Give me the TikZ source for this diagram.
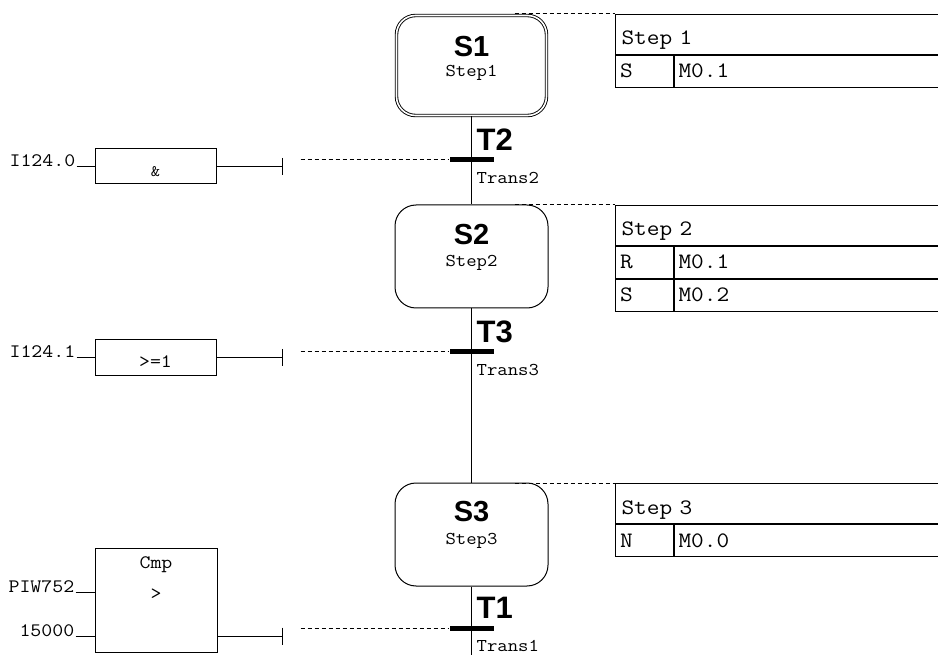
\documentclass[tikz,border=0pt]{standalone}
\usepackage{fontspec}
\setsansfont{Liberation Sans}
\setmonofont{Latin Modern Mono}[FakeStretch=1.12]
\usetikzlibrary{positioning,calc}
\tikzstyle{stepbox} = [rectangle, rounded corners=21pt, draw=black, line width=1pt, minimum width=153pt, minimum height=103pt, inner sep=0pt]
\tikzstyle{initstep} = [stepbox, double, double distance=1.6pt, line width=0.9pt, minimum width=150pt, minimum height=100pt, rounded corners=19pt]
\tikzstyle{steptitle} = [anchor=base, inner sep=0pt, font=\sffamily\bfseries\fontsize{29}{29}\selectfont]
\tikzstyle{stepname} = [anchor=base, inner sep=0pt, font=\ttfamily\fontsize{18}{18}\selectfont]
\tikzstyle{transbar} = [rectangle, fill=black, minimum width=44pt, minimum height=5pt, inner sep=0pt]
\tikzstyle{transtitle} = [anchor=base west, inner sep=0pt, font=\sffamily\bfseries\fontsize{31}{31}\selectfont]
\tikzstyle{transname} = [anchor=base west, inner sep=0pt, font=\ttfamily\fontsize{18}{18}\selectfont]
\tikzstyle{gate} = [rectangle, draw=black, line width=1pt, minimum width=121pt, minimum height=35pt, inner sep=0pt, text height=20pt, text depth=0pt, font=\ttfamily\fontsize{19}{19}\selectfont]
\tikzstyle{gatelabel} = [anchor=base, inner sep=0pt, font=\ttfamily\fontsize{19}{19}\selectfont]
\tikzstyle{signal} = [anchor=base east, inner sep=0pt, font=\ttfamily\fontsize{19}{19}\selectfont]
\tikzstyle{header} = [rectangle, draw=black, line width=1pt, anchor=north west, minimum width=330pt, minimum height=40pt, text width=318pt, inner xsep=6pt, inner ysep=0pt, text height=21pt, text depth=0pt, align=left, font=\ttfamily\fontsize{22}{22}\selectfont]
\tikzstyle{qualifier} = [header, minimum width=58pt, minimum height=32pt, text width=49pt, inner xsep=4.5pt, text height=13pt]
\tikzstyle{operand} = [qualifier, minimum width=272pt, text width=264pt, inner xsep=4pt]
\tikzstyle{wire} = [line width=1pt]
\tikzstyle{linkline} = [line width=1pt, dash pattern=on 4pt off 3pt]

\begin{document}
\begin{tikzpicture}[x=1pt,y=-1pt]
        % Canvas ----------------------------------------------------------------------------------
        \path[fill=white] (0,0) rectangle (938,655);
        \useasboundingbox (0,0) rectangle (938,655);
        % Steps -----------------------------------------------------------------------------------
        \node[initstep](s1) at (471.5,65.5){};
        \node[steptitle](s1_title) at ([yshift=-41.5pt]s1.north){S1};
        \node[stepname](s1_name) at ([yshift=-61.5pt]s1.north){Step1};
        \node[stepbox](s2) at (471.5,256.5){};
        \node[steptitle](s2_title) at ([yshift=-40pt]s2.north){S2};
        \node[stepname](s2_name) at ([yshift=-62pt]s2.north){Step2};
        \node[stepbox](s3) at (471.5,534.5){};
        \node[steptitle](s3_title) at ([yshift=-39pt]s3.north){S3};
        \node[stepname](s3_name) at ([yshift=-62pt]s3.north){Step3};
        \coordinate (seq_end) at (471.5,655);
        % Sequence
        \draw[wire] (s1.south) -- (s2.north);
        \draw[wire] (s2.south) -- (s3.north);
        \draw[wire] (s3.south) -- (seq_end);
        % Transitions -----------------------------------------------------------------------------
        \node[transbar](t2) at (471.5,160){};
        \node[transtitle](t2_title) at ([xshift=5pt,yshift=7pt]t2.north){T2};
        \node[transname](t2_name) at ([xshift=5pt,yshift=-21pt]t2.south){Trans2};
        \node[transbar](t3) at (471.5,352){};
        \node[transtitle](t3_title) at ([xshift=5pt,yshift=7pt]t3.north){T3};
        \node[transname](t3_name) at ([xshift=5pt,yshift=-21pt]t3.south){Trans3};
        \node[transbar](t1) at (471.5,628){};
        \node[transtitle](t1_title) at ([xshift=5pt,yshift=7pt]t1.north){T1};
        \node[transname](t1_name) at ([xshift=5pt,yshift=-21pt]t1.south){Trans1};
        % Actions ---------------------------------------------------------------------------------
        \node[header](tab1) at (615,14){Step 1};
        \node[qualifier, below right=0pt and 0pt of tab1.south west](tab1_q1){S};
        \node[operand, below right=0pt and 0pt of tab1_q1.north east](tab1_o1){M0.1};
        \node[header](tab2) at (615,205){Step 2};
        \node[qualifier, below right=0pt and 0pt of tab2.south west](tab2_q1){R};
        \node[operand, below right=0pt and 0pt of tab2_q1.north east](tab2_o1){M0.1};
        \node[qualifier, below right=0pt and 0pt of tab2_q1.south west](tab2_q2){S};
        \node[operand, below right=0pt and 0pt of tab2_q2.north east](tab2_o2){M0.2};
        \node[header](tab3) at (615,483){Step 3};
        \node[qualifier, below right=0pt and 0pt of tab3.south west](tab3_q1){N};
        \node[operand, below right=0pt and 0pt of tab3_q1.north east](tab3_o1){M0.0};
        % Links to actions
        \coordinate (s1_tap) at ([xshift=43pt]s1.north);
        \coordinate (s2_tap) at ([xshift=43pt]s2.north);
        \coordinate (s3_tap) at ([xshift=43pt]s3.north);
        \draw[linkline] (s1_tap |- tab1.north west) -- (tab1.north west);
        \draw[linkline] (s2_tap |- tab2.north west) -- (tab2.north west);
        \draw[linkline] (s3_tap |- tab3.north west) -- (tab3.north west);
        % Conditions ------------------------------------------------------------------------------
        \node[gate](g1) at (155.5,166.5){{\fontsize{16}{16}\selectfont\&}};
        \coordinate (g1_in) at ([xshift=-18pt]g1.west);
        \node[signal](g1_sig) at ([xshift=-1pt]g1_in){I124.0};
        \coordinate (g1_out) at ([xshift=66pt]g1.east);
        \coordinate (g1_gap) at ([xshift=18pt]g1_out);
        \draw[wire] (g1_in) -- (g1.west);
        \draw[wire] (g1.east) -- (g1_out);
        \draw[wire] ([yshift=8.5pt]g1_out) -- ([yshift=-8.5pt]g1_out);
        \draw[linkline] (g1_gap |- t2.west) -- (t2.west);
        \node[gate](g2) at (155.5,357.5){>=1};
        \coordinate (g2_in) at ([xshift=-18pt]g2.west);
        \node[signal](g2_sig) at ([xshift=-1pt]g2_in){I124.1};
        \coordinate (g2_out) at ([xshift=66pt]g2.east);
        \coordinate (g2_gap) at ([xshift=18pt]g2_out);
        \draw[wire] (g2_in) -- (g2.west);
        \draw[wire] (g2.east) -- (g2_out);
        \draw[wire] ([yshift=8.5pt]g2_out) -- ([yshift=-8.5pt]g2_out);
        \draw[linkline] (g2_gap |- t3.west) -- (t3.west);
        % Comparator
        \node[gate, minimum width=122pt, minimum height=104pt](cmp) at (156,600){};
        \node[gatelabel](cmp_title) at ([yshift=-21pt]cmp.north){Cmp};
        \node[gatelabel](cmp_op) at ([yshift=-52pt]cmp.north){>};
        \coordinate (cmp_in1) at ([xshift=-19pt,yshift=8pt]cmp.west);
        \coordinate (cmp_in2) at ([xshift=-19pt,yshift=-36pt]cmp.west);
        \node[signal](cmp_sig1) at ([xshift=-1pt]cmp_in1){PIW752};
        \node[signal](cmp_sig2) at ([xshift=-1pt]cmp_in2){15000};
        \coordinate (cmp_out) at ([xshift=65pt,yshift=-36pt]cmp.east);
        \coordinate (cmp_gap) at ([xshift=18pt]cmp_out);
        \draw[wire] (cmp_in1) -- (cmp_in1 -| cmp.west);
        \draw[wire] (cmp_in2) -- (cmp_in2 -| cmp.west);
        \draw[wire] (cmp_out -| cmp.east) -- (cmp_out);
        \draw[wire] ([yshift=8.5pt]cmp_out) -- ([yshift=-8.5pt]cmp_out);
        \draw[linkline] (cmp_gap |- t1.west) -- (t1.west);
    \end{tikzpicture}
\end{document}
